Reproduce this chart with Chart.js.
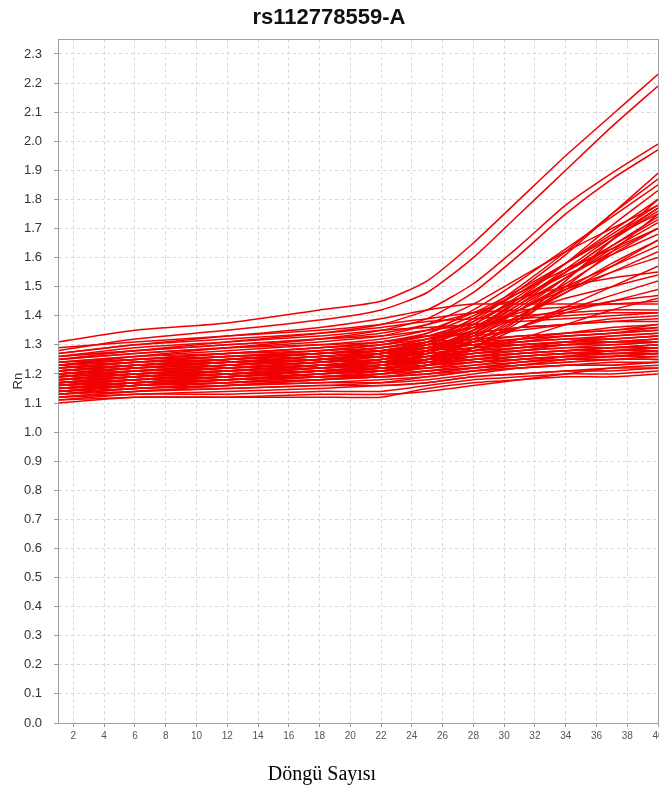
<!DOCTYPE html>
<html>
<head>
<meta charset="utf-8">
<script src="https://cdn.jsdelivr.net/npm/chart.js@4"></script>
<style>
  html, body { margin: 0; padding: 0; background: #fff; }
  #wrap { position: relative; width: 659px; height: 787px; overflow: hidden; }
  #c { position: absolute; left: 0; top: 0; }
  #xtitle { position: absolute; left: 0; width: 644px; top: 762px; text-align: center;
            font-family: "Liberation Serif", "DejaVu Serif", serif; font-size: 20px; line-height: 22px; color: #000; }
</style>
</head>
<body>
<div id="wrap">
  <canvas id="c" width="680" height="787"></canvas>
  <div id="xtitle">Döngü Sayısı</div>
</div>
<script>
const chartTitle = "rs112778559-A";
const yTitle = "Rn";
const cycles = [1, 6, 12, 18, 22, 25, 28, 31, 34, 37, 40];

const topCurves = [
  [1.31, 1.35, 1.375, 1.42, 1.45, 1.52, 1.65, 1.80, 1.95, 2.09, 2.23],
  [1.28, 1.32, 1.35, 1.385, 1.42, 1.48, 1.60, 1.75, 1.90, 2.05, 2.19],
  [1.25, 1.28, 1.31, 1.34, 1.37, 1.42, 1.51, 1.64, 1.78, 1.89, 1.99],
  [1.23, 1.26, 1.29, 1.32, 1.35, 1.39, 1.48, 1.61, 1.75, 1.87, 1.97]
];

const risingCurves = [
  [1.20, 1.22, 1.24, 1.26, 1.28, 1.31, 1.38, 1.49, 1.61, 1.75, 1.89],
  [1.18, 1.20, 1.22, 1.24, 1.27, 1.31, 1.39, 1.50, 1.62, 1.75, 1.87],
  [1.22, 1.24, 1.26, 1.28, 1.30, 1.34, 1.42, 1.52, 1.63, 1.74, 1.85],
  [1.16, 1.18, 1.20, 1.22, 1.24, 1.28, 1.35, 1.46, 1.58, 1.71, 1.83],
  [1.19, 1.21, 1.23, 1.25, 1.27, 1.30, 1.37, 1.47, 1.58, 1.69, 1.80],
  [1.21, 1.23, 1.25, 1.27, 1.29, 1.32, 1.39, 1.48, 1.58, 1.68, 1.78],
  [1.15, 1.17, 1.19, 1.21, 1.23, 1.27, 1.34, 1.44, 1.55, 1.66, 1.77],
  [1.17, 1.19, 1.21, 1.23, 1.25, 1.28, 1.35, 1.45, 1.55, 1.66, 1.76],
  [1.24, 1.26, 1.28, 1.30, 1.32, 1.35, 1.41, 1.49, 1.58, 1.67, 1.75],
  [1.13, 1.15, 1.17, 1.19, 1.21, 1.25, 1.32, 1.42, 1.53, 1.64, 1.74],
  [1.20, 1.22, 1.24, 1.26, 1.28, 1.31, 1.37, 1.46, 1.55, 1.64, 1.73],
  [1.18, 1.20, 1.22, 1.24, 1.26, 1.29, 1.35, 1.44, 1.53, 1.63, 1.72],
  [1.16, 1.18, 1.20, 1.22, 1.24, 1.27, 1.33, 1.42, 1.51, 1.61, 1.70],
  [1.22, 1.24, 1.26, 1.28, 1.30, 1.33, 1.38, 1.46, 1.54, 1.61, 1.68],
  [1.14, 1.16, 1.18, 1.20, 1.22, 1.25, 1.31, 1.40, 1.49, 1.58, 1.66],
  [1.19, 1.21, 1.23, 1.25, 1.27, 1.29, 1.34, 1.42, 1.50, 1.57, 1.64],
  [1.17, 1.19, 1.21, 1.23, 1.25, 1.28, 1.33, 1.40, 1.48, 1.55, 1.62],
  [1.21, 1.23, 1.25, 1.27, 1.29, 1.31, 1.35, 1.42, 1.49, 1.55, 1.60],
  [1.15, 1.17, 1.19, 1.21, 1.23, 1.25, 1.29, 1.36, 1.43, 1.50, 1.57],
  [1.26, 1.28, 1.30, 1.32, 1.34, 1.37, 1.41, 1.46, 1.50, 1.53, 1.55],
  [1.18, 1.20, 1.22, 1.24, 1.26, 1.28, 1.31, 1.36, 1.42, 1.47, 1.52],
  [1.20, 1.22, 1.24, 1.26, 1.27, 1.29, 1.32, 1.36, 1.41, 1.45, 1.49],
  [1.16, 1.18, 1.20, 1.22, 1.23, 1.25, 1.28, 1.32, 1.37, 1.42, 1.46],
  [1.27, 1.30, 1.33, 1.36, 1.39, 1.42, 1.44, 1.44, 1.44, 1.44, 1.44],
  [1.14, 1.16, 1.18, 1.20, 1.22, 1.24, 1.29, 1.39, 1.52, 1.66, 1.80],
  [1.12, 1.14, 1.16, 1.18, 1.20, 1.23, 1.29, 1.38, 1.50, 1.62, 1.75],
  [1.23, 1.25, 1.27, 1.29, 1.31, 1.34, 1.40, 1.48, 1.56, 1.63, 1.70],
  [1.25, 1.27, 1.29, 1.31, 1.33, 1.37, 1.44, 1.53, 1.62, 1.70, 1.78],
  [1.17, 1.19, 1.21, 1.23, 1.25, 1.28, 1.34, 1.43, 1.53, 1.62, 1.70],
  [1.15, 1.17, 1.19, 1.21, 1.23, 1.26, 1.31, 1.39, 1.48, 1.57, 1.66],
  [1.19, 1.21, 1.23, 1.25, 1.27, 1.30, 1.36, 1.45, 1.56, 1.67, 1.77],
  [1.21, 1.23, 1.25, 1.27, 1.29, 1.32, 1.36, 1.41, 1.46, 1.50, 1.54],
  [1.23, 1.25, 1.27, 1.29, 1.31, 1.33, 1.36, 1.39, 1.42, 1.45, 1.47]
];

const flatCurves = [
  [1.10, 1.12, 1.12, 1.12, 1.12, 1.15, 1.17, 1.18, 1.19, 1.19, 1.20],
  [1.11, 1.13, 1.13, 1.14, 1.14, 1.16, 1.18, 1.19, 1.20, 1.20, 1.21],
  [1.12, 1.13, 1.14, 1.15, 1.16, 1.17, 1.19, 1.20, 1.21, 1.21, 1.22],
  [1.13, 1.15, 1.16, 1.17, 1.17, 1.18, 1.20, 1.22, 1.23, 1.23, 1.24],
  [1.13, 1.15, 1.16, 1.17, 1.18, 1.19, 1.21, 1.22, 1.23, 1.24, 1.24],
  [1.14, 1.15, 1.16, 1.18, 1.19, 1.20, 1.22, 1.23, 1.24, 1.25, 1.25],
  [1.14, 1.16, 1.17, 1.18, 1.19, 1.21, 1.22, 1.24, 1.25, 1.25, 1.26],
  [1.15, 1.16, 1.17, 1.19, 1.20, 1.21, 1.23, 1.24, 1.25, 1.26, 1.26],
  [1.15, 1.17, 1.18, 1.19, 1.20, 1.22, 1.23, 1.25, 1.26, 1.26, 1.27],
  [1.16, 1.17, 1.18, 1.20, 1.21, 1.22, 1.24, 1.25, 1.26, 1.27, 1.27],
  [1.16, 1.18, 1.19, 1.20, 1.21, 1.23, 1.24, 1.26, 1.27, 1.27, 1.28],
  [1.17, 1.18, 1.19, 1.21, 1.22, 1.23, 1.25, 1.26, 1.27, 1.28, 1.28],
  [1.17, 1.19, 1.20, 1.21, 1.22, 1.24, 1.25, 1.26, 1.27, 1.28, 1.29],
  [1.18, 1.19, 1.20, 1.22, 1.23, 1.24, 1.26, 1.27, 1.28, 1.28, 1.29],
  [1.18, 1.20, 1.21, 1.22, 1.23, 1.25, 1.26, 1.27, 1.28, 1.29, 1.30],
  [1.19, 1.20, 1.21, 1.23, 1.24, 1.25, 1.27, 1.28, 1.29, 1.29, 1.30],
  [1.19, 1.21, 1.22, 1.23, 1.24, 1.26, 1.27, 1.28, 1.29, 1.30, 1.31],
  [1.20, 1.21, 1.22, 1.24, 1.25, 1.26, 1.28, 1.29, 1.30, 1.30, 1.31],
  [1.20, 1.22, 1.23, 1.24, 1.25, 1.27, 1.28, 1.29, 1.30, 1.31, 1.32],
  [1.21, 1.22, 1.23, 1.25, 1.26, 1.27, 1.29, 1.30, 1.31, 1.31, 1.32],
  [1.21, 1.23, 1.24, 1.25, 1.26, 1.28, 1.29, 1.30, 1.31, 1.32, 1.33],
  [1.22, 1.23, 1.24, 1.26, 1.27, 1.28, 1.30, 1.31, 1.32, 1.32, 1.33],
  [1.22, 1.24, 1.25, 1.26, 1.27, 1.29, 1.30, 1.31, 1.32, 1.33, 1.34],
  [1.23, 1.24, 1.25, 1.27, 1.28, 1.29, 1.31, 1.32, 1.33, 1.34, 1.35],
  [1.24, 1.26, 1.27, 1.28, 1.29, 1.31, 1.32, 1.33, 1.34, 1.35, 1.36],
  [1.25, 1.27, 1.29, 1.30, 1.31, 1.33, 1.34, 1.36, 1.37, 1.38, 1.39],
  [1.26, 1.29, 1.31, 1.33, 1.35, 1.36, 1.37, 1.38, 1.39, 1.40, 1.41],
  [1.27, 1.30, 1.32, 1.34, 1.36, 1.38, 1.39, 1.40, 1.41, 1.42, 1.42],
  [1.16, 1.17, 1.18, 1.19, 1.19, 1.20, 1.21, 1.22, 1.23, 1.23, 1.24],
  [1.18, 1.19, 1.20, 1.21, 1.21, 1.22, 1.24, 1.25, 1.26, 1.26, 1.27],
  [1.20, 1.21, 1.22, 1.23, 1.23, 1.24, 1.25, 1.26, 1.27, 1.27, 1.28],
  [1.12, 1.14, 1.15, 1.16, 1.17, 1.19, 1.21, 1.23, 1.25, 1.26, 1.27],
  [1.14, 1.16, 1.18, 1.20, 1.21, 1.23, 1.26, 1.28, 1.30, 1.31, 1.32],
  [1.17, 1.19, 1.21, 1.23, 1.24, 1.26, 1.28, 1.30, 1.31, 1.32, 1.33],
  [1.19, 1.21, 1.23, 1.25, 1.26, 1.28, 1.30, 1.32, 1.33, 1.34, 1.35],
  [1.15, 1.17, 1.19, 1.21, 1.22, 1.24, 1.27, 1.29, 1.31, 1.33, 1.34],
  [1.23, 1.25, 1.27, 1.29, 1.30, 1.32, 1.34, 1.36, 1.37, 1.38, 1.38],
  [1.21, 1.23, 1.25, 1.27, 1.28, 1.30, 1.33, 1.35, 1.37, 1.39, 1.40],
  [1.13, 1.14, 1.15, 1.16, 1.16, 1.17, 1.19, 1.20, 1.21, 1.22, 1.22],
  [1.24, 1.25, 1.26, 1.27, 1.28, 1.29, 1.30, 1.30, 1.31, 1.31, 1.31],
  [1.11, 1.12, 1.12, 1.13, 1.13, 1.14, 1.16, 1.18, 1.20, 1.22, 1.23],
  [1.29, 1.31, 1.33, 1.35, 1.37, 1.39, 1.41, 1.42, 1.43, 1.44, 1.45],
  [1.14, 1.16, 1.17, 1.18, 1.19, 1.20, 1.22, 1.24, 1.26, 1.28, 1.29],
  [1.16, 1.18, 1.19, 1.21, 1.22, 1.23, 1.25, 1.27, 1.28, 1.29, 1.30],
  [1.18, 1.20, 1.21, 1.22, 1.23, 1.25, 1.27, 1.29, 1.30, 1.31, 1.31],
  [1.20, 1.22, 1.24, 1.25, 1.26, 1.27, 1.29, 1.31, 1.33, 1.34, 1.36],
  [1.22, 1.24, 1.26, 1.27, 1.28, 1.30, 1.31, 1.33, 1.34, 1.36, 1.37],
  [1.15, 1.16, 1.18, 1.19, 1.20, 1.21, 1.22, 1.23, 1.24, 1.25, 1.25],
  [1.17, 1.18, 1.20, 1.21, 1.22, 1.23, 1.24, 1.25, 1.26, 1.27, 1.27],
  [1.19, 1.20, 1.21, 1.23, 1.24, 1.25, 1.26, 1.27, 1.28, 1.29, 1.29],
  [1.21, 1.23, 1.24, 1.25, 1.27, 1.28, 1.30, 1.32, 1.34, 1.35, 1.37],
  [1.26, 1.28, 1.30, 1.32, 1.33, 1.35, 1.37, 1.39, 1.40, 1.41, 1.41]
];

const allCurves = [...flatCurves, ...risingCurves, ...topCurves];
const datasets = allCurves.map((vals, i) => ({
  label: "well " + (i + 1),
  data: vals.map((v, k) => ({ x: cycles[k], y: v })),
  borderColor: "rgb(240,0,0)",
  borderWidth: 1.5,
  pointRadius: 0,
  tension: 0.2,
  fill: false
}));

const frame = {
  id: "frame",
  afterDraw(chart) {
    const { ctx, chartArea: a } = chart;
    ctx.save();
    ctx.strokeStyle = "#a0a0a0";
    ctx.lineWidth = 1;
    ctx.strokeRect(Math.round(a.left) + 0.5, Math.round(a.top) + 0.5,
                   Math.round(a.right - a.left), Math.round(a.bottom - a.top));
    ctx.restore();
  }
};

new Chart(document.getElementById("c"), {
  type: "line",
  data: { datasets },
  plugins: [frame],
  options: {
    responsive: false,
    animation: false,
    devicePixelRatio: 1,
    layout: { padding: { left: 0, right: 22, top: 0, bottom: 0 } },
    plugins: {
      legend: { display: false },
      tooltip: { enabled: false },
      title: {
        display: true,
        text: chartTitle,
        color: "#111",
        font: { family: "'Liberation Sans', Arial, sans-serif", size: 22, weight: "bold", lineHeight: 1.2 },
        padding: { top: 5, bottom: 8 }
      }
    },
    scales: {
      x: {
        type: "linear",
        min: 1,
        max: 40,
        afterFit: (s) => { s.height = 64; },
        ticks: {
          stepSize: 2,
          includeBounds: false,
          color: "#555",
          font: { family: "'Liberation Sans', Arial, sans-serif", size: 10 },
          padding: 3,
          maxRotation: 0,
          autoSkip: false
        },
        grid: {
          color: "#d8d8d8",
          tickBorderDash: [],
          tickColor: "#999",
          tickLength: 4
        },
        border: { color: "#999", width: 1, dash: [3, 3] }
      },
      y: {
        type: "linear",
        min: 0,
        max: 2.35,
        afterFit: (s) => { s.width = 58; },
        title: {
          display: true,
          text: yTitle,
          color: "#333",
          font: { family: "'Liberation Sans', Arial, sans-serif", size: 13, lineHeight: 1.2 },
          padding: { top: 11, bottom: 0 }
        },
        ticks: {
          stepSize: 0.1,
          includeBounds: false,
          color: "#333",
          font: { family: "'Liberation Sans', Arial, sans-serif", size: 13 },
          padding: 12,
          callback: (v) => Number(v).toFixed(1),
          autoSkip: false
        },
        grid: {
          color: "#d8d8d8",
          tickBorderDash: [],
          tickColor: "#999",
          tickLength: 4
        },
        border: { color: "#999", width: 1, dash: [3, 3] }
      }
    }
  }
});
</script>
</body>
</html>
